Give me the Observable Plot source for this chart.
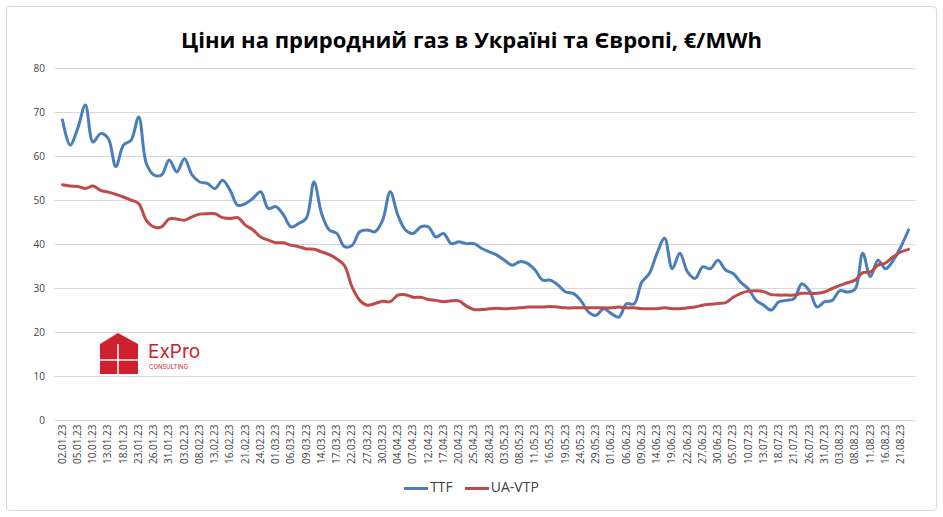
<!DOCTYPE html>
<html><head><meta charset="utf-8">
<script src="https://cdn.jsdelivr.net/npm/d3@7"></script>
<script src="https://cdn.jsdelivr.net/npm/@observablehq/plot@0.6"></script>
<style>
body{margin:0;background:#fff;font-family:"Open Sans",Calibri,sans-serif;}
#wrap{position:relative;width:943px;height:517px;}
#frame{position:absolute;left:6px;top:6px;width:929px;height:503px;border:1px solid #d9d9d9;border-radius:4px;}
#title{position:absolute;top:24px;left:0;width:943px;text-align:center;font-weight:bold;font-size:22px;color:#000;}
#chart{position:absolute;left:0;top:50px;}
#legend{position:absolute;top:477px;left:0;width:943px;text-align:center;font-size:14px;color:#404040;}
#legend span{display:inline-block;margin:0 6px;}
#legend i{display:inline-block;width:24px;height:3px;vertical-align:middle;margin-right:2px;}
#logo{position:absolute;left:98px;top:330px;}
</style></head><body>
<div id="wrap">
<div id="frame"></div>
<div id="title">Ціни на природний газ в Україні та Європі, €/MWh</div>
<div id="chart"></div>
<div id="legend"><span><i style="background:#4a7ebb"></i>TTF</span><span><i style="background:#be4b48"></i>UA-VTP</span></div>
<svg id="logo" width="130" height="48">
<path d="M2 14 L20 3 L40 14 L40 44 L2 44 Z" fill="#d0202e"/>
<line x1="2" y1="30" x2="40" y2="30" stroke="#fff" stroke-width="1.5"/>
<line x1="20" y1="14" x2="20" y2="44" stroke="#fff" stroke-width="1.5"/>
<text x="50" y="28" fill="#d0202e" font-size="19" font-family="Inter,sans-serif">ExPro</text>
<text x="51" y="39" fill="#d0202e" font-size="6" font-family="Inter,sans-serif">CONSULTING</text>
</svg>
</div>
<script>
const tickLabels = ["02.01.23","05.01.23","10.01.23","13.01.23","18.01.23","23.01.23","26.01.23","31.01.23","03.02.23","08.02.23","13.02.23","16.02.23","21.02.23","24.02.23","01.03.23","06.03.23","09.03.23","14.03.23","17.03.23","22.03.23","27.03.23","30.03.23","04.04.23","07.04.23","12.04.23","17.04.23","20.04.23","25.04.23","28.04.23","03.05.23","08.05.23","11.05.23","16.05.23","19.05.23","24.05.23","29.05.23","01.06.23","06.06.23","09.06.23","14.06.23","19.06.23","22.06.23","27.06.23","30.06.23","05.07.23","10.07.23","13.07.23","18.07.23","21.07.23","26.07.23","31.07.23","03.08.23","08.08.23","11.08.23","16.08.23","21.08.23"];
// values at half-tick steps (index = position/2)
const ttf = [68.3,62.6,66.4,71.7,63.3,65.2,64.1,57.7,62.6,63.7,69,58.4,55.8,55.8,59.2,56.5,59.5,55.8,54.2,53.9,52.7,54.6,52.3,48.9,49.3,50.5,52,48.2,48.6,46.7,44,44.8,46,54.2,47,43.3,42.5,39.5,39.8,42.9,43.3,42.9,45.5,52,46.7,43.3,42.5,44,44,41.7,42.5,40.2,40.6,40.2,40.2,39.1,38.3,37.6,36.4,35.3,36.1,35.7,34.2,31.9,31.9,30.8,29.2,28.9,27.3,24.7,23.9,25.4,24.3,23.5,26.5,26.5,31.4,33.4,38,41.4,34.5,38,33.8,32.3,34.9,34.5,36.4,34.2,33.4,31.4,29.9,27.3,26.2,25.1,27,27.3,27.7,31.1,29.5,25.8,27,27.3,29.5,29.2,29.9,38,32.7,36.4,34.5,36.4,39.5,43.3];
const uaVtp = [53.6,53.3,53.2,52.7,53.3,52.3,51.9,51.4,50.8,50.1,49.3,45.5,44,44,45.8,45.8,45.5,46.3,46.9,47,47,46.1,45.9,46.1,44.4,43.3,41.7,41,40.4,40.4,39.8,39.5,39,38.9,38.3,37.7,36.7,35.2,30.3,27.3,26.2,26.6,27.1,27,28.5,28.6,28,28,27.5,27.3,27,27.2,27.2,26,25.2,25.2,25.4,25.5,25.4,25.5,25.6,25.8,25.8,25.8,25.9,25.8,25.6,25.6,25.6,25.6,25.6,25.6,25.6,25.8,25.6,25.6,25.4,25.4,25.4,25.6,25.4,25.4,25.6,25.8,26.2,26.4,26.6,26.8,28,28.9,29.4,29.5,29.3,28.6,28.5,28.5,28.5,28.9,28.9,28.9,29.2,30,30.7,31.3,31.9,33.6,33.8,35.3,35.8,37.2,38.3,38.9];
const yTicks = [0,10,20,30,40,50,60,70,80];
const rows = [
  ...ttf.map((v,i)=>({x:i/2,y:v,s:"TTF"})),
  ...uaVtp.map((v,i)=>({x:i/2,y:v,s:"UA-VTP"}))
];
const chart = Plot.plot({
  width:943, height:420,
  marginLeft:62, marginRight:35, marginTop:18, marginBottom:50,
  style:{fontFamily:"Open Sans, sans-serif", fontSize:"10px", color:"#404040"},
  x:{domain:[0,55.5], axis:null, label:null},
  y:{domain:[0,80], axis:null, label:null},
  color:{domain:["TTF","UA-VTP"], range:["#4a7ebb","#be4b48"]},
  marks:[
    Plot.gridY(yTicks,{stroke:"#d9d9d9", strokeOpacity:1, x1:-0.5, x2:56}),
    Plot.axisY(yTicks,{tickSize:0, tickPadding:0, dx:-10, x:-0.5, textAnchor:"end", fill:"#404040", label:null}),
    Plot.axisX(d3.range(tickLabels.length),{tickSize:0, tickFormat:i=>tickLabels[i], tickRotate:-90, fontSize:10, tickPadding:4, fill:"#404040", label:null}),
    Plot.lineY(rows,{x:"x", y:"y", stroke:"s", strokeWidth:3, curve:"catmull-rom"})
  ]
});
document.getElementById("chart").appendChild(chart);
</script>
</body></html>
